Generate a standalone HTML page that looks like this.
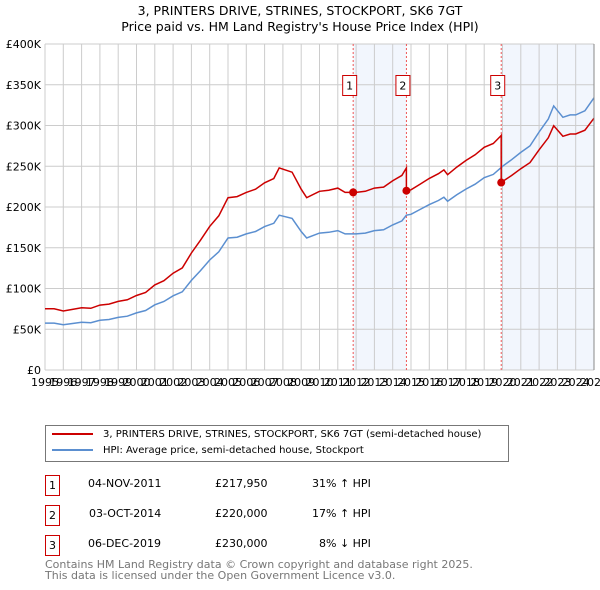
<!DOCTYPE html>
<html><head><meta charset="utf-8">
<style>
body{margin:0;width:600px;height:590px;background:#fff;font-family:"DejaVu Sans","Liberation Sans",sans-serif;position:relative;overflow:hidden}
.t{position:absolute;white-space:nowrap;color:#000}
.box{position:absolute;border:1px solid #c00;width:13px;height:19px;font-size:11px;text-align:center;line-height:19px}
</style></head><body>
<svg width="600" height="400" style="position:absolute;left:0;top:0">
<g id="g"></g>
</svg>
<div class="t" style="left:0;width:600px;text-align:center;top:3px;font-size:12.5px;line-height:16px">3, PRINTERS DRIVE, STRINES, STOCKPORT, SK6 7GT<br>Price paid vs. HM Land Registry's House Price Index (HPI)</div>
<div style="position:absolute;left:45px;top:425px;width:462px;height:35px;border:1px solid #777">
 <div style="position:absolute;left:6px;top:3px;font-size:10px;white-space:nowrap"><span style="display:inline-block;width:41px;height:2px;background:#c00;vertical-align:middle;margin-right:10px"></span>3, PRINTERS DRIVE, STRINES, STOCKPORT, SK6 7GT (semi-detached house)</div>
 <div style="position:absolute;left:6px;top:19px;font-size:10px;white-space:nowrap"><span style="display:inline-block;width:41px;height:2px;background:#5b8fd0;vertical-align:middle;margin-right:10px"></span>HPI: Average price, semi-detached house, Stockport</div>
</div>
<div>
<div class="box" style="left:45px;top:475px">1</div>
<div class="t" style="left:88px;top:477px;font-size:11px">04-NOV-2011</div>
<div class="t" style="left:215px;top:477px;font-size:11px">£217,950</div>
<div class="t" style="left:312px;top:477px;font-size:11px">31% ↑ HPI</div>
<div class="box" style="left:45px;top:505px">2</div>
<div class="t" style="left:89px;top:507px;font-size:11px">03-OCT-2014</div>
<div class="t" style="left:215px;top:507px;font-size:11px">£220,000</div>
<div class="t" style="left:312px;top:507px;font-size:11px">17% ↑ HPI</div>
<div class="box" style="left:45px;top:535px">3</div>
<div class="t" style="left:88px;top:537px;font-size:11px">06-DEC-2019</div>
<div class="t" style="left:215px;top:537px;font-size:11px">£230,000</div>
<div class="t" style="left:319px;top:537px;font-size:11px">8% ↓ HPI</div>
</div>
<div class="t" style="left:45px;top:560px;font-size:11px;line-height:10.5px;color:#777">Contains HM Land Registry data © Crown copyright and database right 2025.<br>This data is licensed under the Open Government Licence v3.0.</div>
<script>
const hpiYears=[1995,1995.5,1996,1996.5,1997,1997.5,1998,1998.5,1999,1999.5,2000,2000.5,2001,2001.5,2002,2002.5,2003,2003.5,2004,2004.5,2005,2005.5,2006,2006.5,2007,2007.5,2007.8,2008.5,2009,2009.3,2010,2010.5,2011,2011.4,2012,2012.5,2013,2013.5,2014,2014.5,2014.75,2015,2015.5,2016,2016.5,2016.8,2017,2017.5,2018,2018.5,2019,2019.5,2019.9,2020,2020.5,2021,2021.5,2022,2022.5,2022.8,2023.3,2023.7,2024,2024.5,2025];
const hpiValues=[57.5,57.5,55.5,57,58.5,58,61,62,64.5,66,70,73,80,84,91,96,110,122,135,145,162,163,167,170,176,180,190,186,170,162,168,169,171,167,167,168,171,172,178,183,190,191,197,203,208,212,207,215,222,228,236,240,248,250,258,267,275,292,308,324,310,313,313,318,334];
const saleYears=[2011.84,2014.75,2019.93];
const salePrices=[217950,220000,230000];
const yTickLabels=['£0','£50K','£100K','£150K','£200K','£250K','£300K','£350K','£400K'];
const yTickValues=[0,50,100,150,200,250,300,350,400];
const xTickYears=[1995,1996,1997,1998,1999,2000,2001,2002,2003,2004,2005,2006,2007,2008,2009,2010,2011,2012,2013,2014,2015,2016,2017,2018,2019,2020,2021,2022,2023,2024,2025];

const X0=45,X1=594,Y0=370,Y1=44;
const xs=y=>X0+(y-1995)/30*(X1-X0);
const ys=v=>Y0-v/400*(Y0-Y1);
const NS='http://www.w3.org/2000/svg';
const g=document.getElementById('g');
function mk(tag,attrs,parent){const e=document.createElementNS(NS,tag);for(const k in attrs)e.setAttribute(k,attrs[k]);(parent||g).appendChild(e);return e;}
function hpiAt(t){for(let i=0;i<hpiYears.length-1;i++){if(t<=hpiYears[i+1]){const f=(t-hpiYears[i])/(hpiYears[i+1]-hpiYears[i]);return hpiValues[i]+f*(hpiValues[i+1]-hpiValues[i]);}}return hpiValues[hpiValues.length-1];}
let r=mk('rect',{x:xs(saleYears[0]),y:Y1,width:xs(saleYears[1])-xs(saleYears[0]),height:Y0-Y1,fill:'#eef3fc',opacity:0.75});


r=mk('rect',{x:xs(saleYears[2]),y:Y1,width:X1-xs(saleYears[2]),height:Y0-Y1,fill:'#eef3fc',opacity:0.75});


xTickYears.forEach(yr=>{
 const l=mk('line',{x1:xs(yr),x2:xs(yr),y1:Y1,y2:Y0,stroke:'#ccc','stroke-width':1});
 
 
 const t=mk('text',{x:xs(yr),y:Y0+16,'font-size':11,'text-anchor':'middle','font-family':'DejaVu Sans,Liberation Sans,sans-serif'});
 t.textContent=yr;
 
 
});
yTickValues.forEach((v,i)=>{
 const l=mk('line',{x1:X0,x2:X1,y1:ys(v),y2:ys(v),stroke:'#ccc','stroke-width':1});
 
 
 const t=mk('text',{x:X0-4,y:ys(v)+4,'font-size':11,'text-anchor':'end','font-family':'DejaVu Sans,Liberation Sans,sans-serif'});
 t.textContent=yTickLabels[i];
 
 
});
saleYears.forEach((s,i)=>{
 const l=mk('line',{x1:xs(s),x2:xs(s),y1:Y1,y2:Y0,stroke:'#e55','stroke-width':1,'stroke-dasharray':'2,2'});
 
 
 const b=mk('rect',{x:xs(s)-10.5,y:75.5,width:14,height:20,fill:'#fff',stroke:'#c00'});
 
 
 const t=mk('text',{x:xs(s)-3.5,y:89.5,'font-size':11,'text-anchor':'middle','font-family':'DejaVu Sans,Liberation Sans,sans-serif'});
 t.textContent=i+1;
 
 
});
let d=hpiYears.map((y,i)=>(i?'L':'M')+xs(y).toFixed(1)+','+ys(hpiValues[i]).toFixed(1)).join('');
let p=mk('path',{d:d,fill:'none',stroke:'#5b8fd0','stroke-width':1.5});


const factors=saleYears.map((s,i)=>salePrices[i]/1000/hpiAt(s));
function factorAt(t){let f=factors[0];for(let i=0;i<saleYears.length;i++)if(t>=saleYears[i])f=factors[i];return f;}
let pts=[];
const all=hpiYears.concat(saleYears).sort((a,b)=>a-b);
all.forEach(t=>{
 const si=saleYears.indexOf(t);
 if(si>0){pts.push([t,hpiAt(t)*factors[si-1]]);}
 pts.push([t,hpiAt(t)*factorAt(t)]);
});
d=pts.map((q,i)=>(i?'L':'M')+xs(q[0]).toFixed(1)+','+ys(q[1]).toFixed(1)).join('');
p=mk('path',{d:d,fill:'none',stroke:'#c00','stroke-width':1.5});


saleYears.forEach((s,i)=>{
 const c=mk('circle',{cx:xs(s),cy:ys(salePrices[i]/1000),r:4,fill:'#c00'});
 
 
});
const ax=mk('line',{x1:X1,x2:X1,y1:Y1,y2:Y0,stroke:'#888'});


</script>
</body></html>
